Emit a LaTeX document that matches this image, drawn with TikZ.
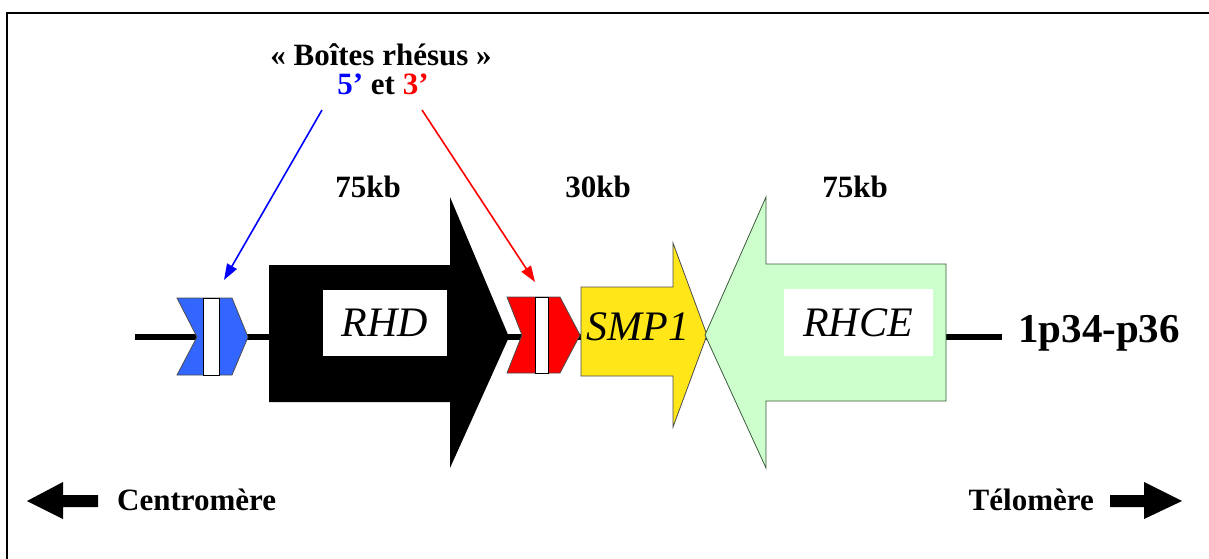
\documentclass[tikz,border=0pt]{standalone}
\usepackage{fontspec}
\setmainfont{Liberation Serif}
\usetikzlibrary{arrows.meta}
\definecolor{boxblue}{RGB}{51,102,255}
\definecolor{boxred}{RGB}{255,0,0}
\definecolor{smpyellow}{RGB}{255,230,25}
\definecolor{rhcegreen}{RGB}{204,255,204}
\definecolor{rhceedge}{RGB}{60,90,60}
\tikzset{
  lbl/.style={font=\fontsize{31}{33}\selectfont\bfseries, inner sep=0pt},
  gene/.style={font=\fontsize{42}{44}\selectfont\itshape, inner sep=0pt},
  backbone/.style={line width=6pt},
  shapeedge/.style={line width=0.8pt, line join=miter},
  pointer/.style={line width=1.6pt, -{Triangle[length=16pt,width=11pt]}}
}
\begin{document}
\begin{tikzpicture}[x=1pt,y=-1pt]
\useasboundingbox (0,0) rectangle (1209,559);
% frame
\draw[line width=2.5pt] (1209,13) -- (7,13) -- (7,560);
% backbone
\coordinate (bbL) at (135,337);
\coordinate (bbR) at (1002,337);
\draw[backbone] (bbL) -- (bbR);
% blue box (5')
\filldraw[fill=boxblue, draw=black!70, shapeedge] (177,298) -- (232,298) -- (248,337) -- (232,375) -- (177,375) -- (197,337) -- cycle;
\filldraw[fill=white, draw=black, shapeedge] (203,298) rectangle (219,375);
\coordinate (blue) at (224,280);
% RHD arrow
\fill[black] (269,265) -- (450,265) -- (450,197) -- (509,337) -- (450,468) -- (450,402) -- (269,402) -- cycle;
\fill[white] (323,290) rectangle (447,356);
\node[gene] (rhd) at (385,323) {RHD};
% red box (3')
\filldraw[fill=boxred, draw=black!70, shapeedge] (507,297) -- (560,297) -- (580,335) -- (560,373) -- (507,373) -- (522,335) -- cycle;
\filldraw[fill=white, draw=black, shapeedge] (535,297) rectangle (548,373);
\coordinate (red) at (535,282);
% SMP1 arrow
\filldraw[fill=smpyellow, draw=black!70, shapeedge] (581,287) -- (673,287) -- (673,243) -- (707,335) -- (673,427) -- (673,376) -- (581,376) -- cycle;
\node[gene] (smp) at (638,327) {SMP1};
% RHCE arrow
\filldraw[fill=rhcegreen, draw=rhceedge, shapeedge] (946,264) -- (766,264) -- (766,197) -- (705,335) -- (766,468) -- (766,401) -- (946,401) -- cycle;
\fill[white] (784,289) rectangle (933,356);
\node[gene] (rhce) at (858,323) {RHCE};
% locus
\node[lbl, font=\fontsize{41}{43}\selectfont\bfseries, anchor=west] (locus) at (1018,333) {1p34-p36};
% sizes
\node[lbl] (s1) at (368,187) {75kb};
\node[lbl] (s2) at (598,187) {30kb};
\node[lbl] (s3) at (855,187) {75kb};
% title
\node[lbl] (title) at (381,55) {« Boîtes rhésus »};
\node[lbl] (ends) at (383,84) {\textcolor{blue}{5’} et \textcolor{boxred}{3’}};
\coordinate (bstart) at (322,110);
\coordinate (rstart) at (422,110);
\draw[pointer, blue] (bstart) -- (blue);
\draw[pointer, boxred] (rstart) -- (red);
% bottom arrows
\fill[black] (98,495) -- (63,495) -- (63,482) -- (27,501) -- (63,519) -- (63,507) -- (98,507) -- cycle;
\fill[black] (1110,495) -- (1144,495) -- (1144,482) -- (1182,501) -- (1144,519) -- (1144,507) -- (1110,507) -- cycle;
\node[lbl, anchor=west] (centro) at (117,500) {Centromère};
\node[lbl, anchor=east] (telo) at (1094,500) {Télomère};
\end{tikzpicture}
\end{document}
